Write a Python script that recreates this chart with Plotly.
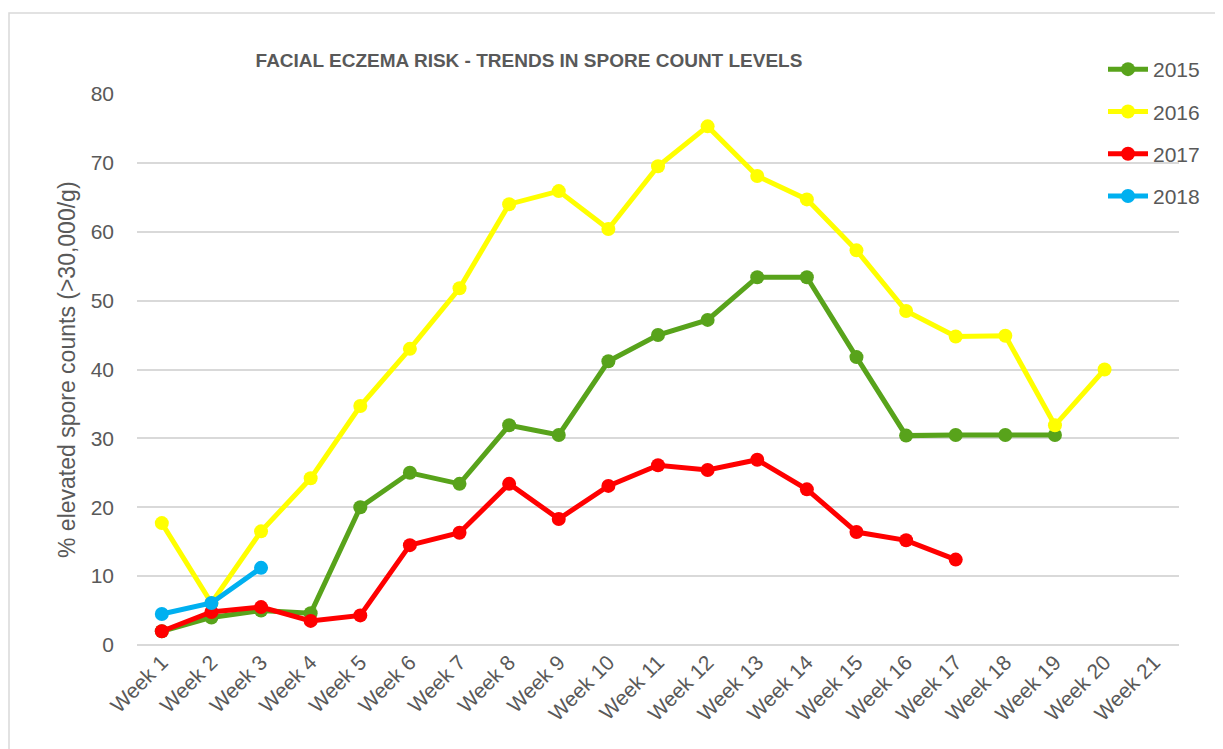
import plotly.graph_objects as go

weeks = [f"Week {i}" for i in range(1, 22)]

series_names = ["2015", "2016", "2017", "2018"]

vals_2015 = [2.0, 4.0, 5.0, 4.6, 20.0, 25.0, 23.4, 31.9, 30.5, 41.2, 45.0, 47.2,
             53.4, 53.4, 41.8, 30.4, 30.5, 30.5, 30.5]
vals_2016 = [17.7, 6.1, 16.5, 24.2, 34.7, 43.0, 51.8, 64.0, 65.9, 60.4, 69.5, 75.3,
             68.1, 64.7, 57.3, 48.5, 44.8, 44.9, 31.9, 40.0]
vals_2017 = [2.0, 4.8, 5.5, 3.5, 4.3, 14.5, 16.3, 23.4, 18.3, 23.1, 26.1, 25.4,
             26.9, 22.6, 16.4, 15.2, 12.4]
vals_2018 = [4.5, 6.1, 11.2]

colors = ["#58A31B", "#FFFF00", "#FF0000", "#00B0F0"]

title_text = "FACIAL ECZEMA RISK - TRENDS IN SPORE COUNT LEVELS"
y_title = "% elevated spore counts (>30,000/g)"
y_ticks = [0, 10, 20, 30, 40, 50, 60, 70, 80]

# page has an 8px body margin; figure coords = page coords - 8
W, H = 1215, 741
L, R, T, B = 129, 44, 86, 104
pw, ph = W - L - R, H - T - B

fig = go.Figure()
all_vals = [vals_2015, vals_2016, vals_2017, vals_2018]
for name, vals, col in zip(series_names, all_vals, colors):
    fig.add_trace(go.Scatter(
        x=weeks[:len(vals)], y=vals, name=name, mode="lines+markers",
        line=dict(color=col, width=5),
        marker=dict(color=col, size=14),
        legendgroup=name,
    ))

font_main = "Liberation Sans, Arial, sans-serif"
gray = "#595959"

fig.update_layout(
    width=W, height=H,
    margin=dict(l=L, r=R, t=T, b=B),
    paper_bgcolor="white", plot_bgcolor="white",
    font=dict(family=font_main, color=gray, size=20),
    title=dict(text="<b>" + title_text + "</b>", x=521 / W, xanchor="center",
               y=1 - 52 / H, yanchor="middle", yref="container",
               font=dict(family=font_main, size=19, color=gray)),
    showlegend=True,
    legend=dict(x=(1095 - L) / pw, xanchor="left", y=(H - B - 41) / ph, yanchor="top",
                bgcolor="rgba(0,0,0,0)", font=dict(size=21, color=gray),
                tracegroupgap=12, itemwidth=40),
    xaxis=dict(type="category", categoryorder="array", categoryarray=weeks,
               range=[-0.5, 20.5], showgrid=False, showline=False, ticks="",
               tickangle=-45, tickfont=dict(size=21, color=gray), zeroline=False),
    yaxis=dict(range=[0, 80], tickvals=y_ticks, showgrid=True, gridcolor="#D9D9D9",
               gridwidth=1.5, zeroline=True, zerolinecolor="#D9D9D9", zerolinewidth=1.5,
               showline=False, ticks="", tickfont=dict(size=21, color=gray),
               ticklabelstandoff=22),
    annotations=[dict(text=y_title, textangle=-90, xref="paper", yref="paper",
                      x=(59 - L) / pw, y=(H - B - 362) / ph, xanchor="center",
                      yanchor="middle", showarrow=False,
                      font=dict(size=23, color=gray))],
    shapes=[dict(type="rect", xref="paper", yref="paper",
                 x0=(1 - L) / pw, x1=(1240 - L) / pw,
                 y0=(H - B - 770) / ph, y1=(H - B - 5) / ph,
                 line=dict(color="#D9D9D9", width=1.5), fillcolor="rgba(0,0,0,0)",
                 layer="below")],
)

fig.write_html("out.html")
